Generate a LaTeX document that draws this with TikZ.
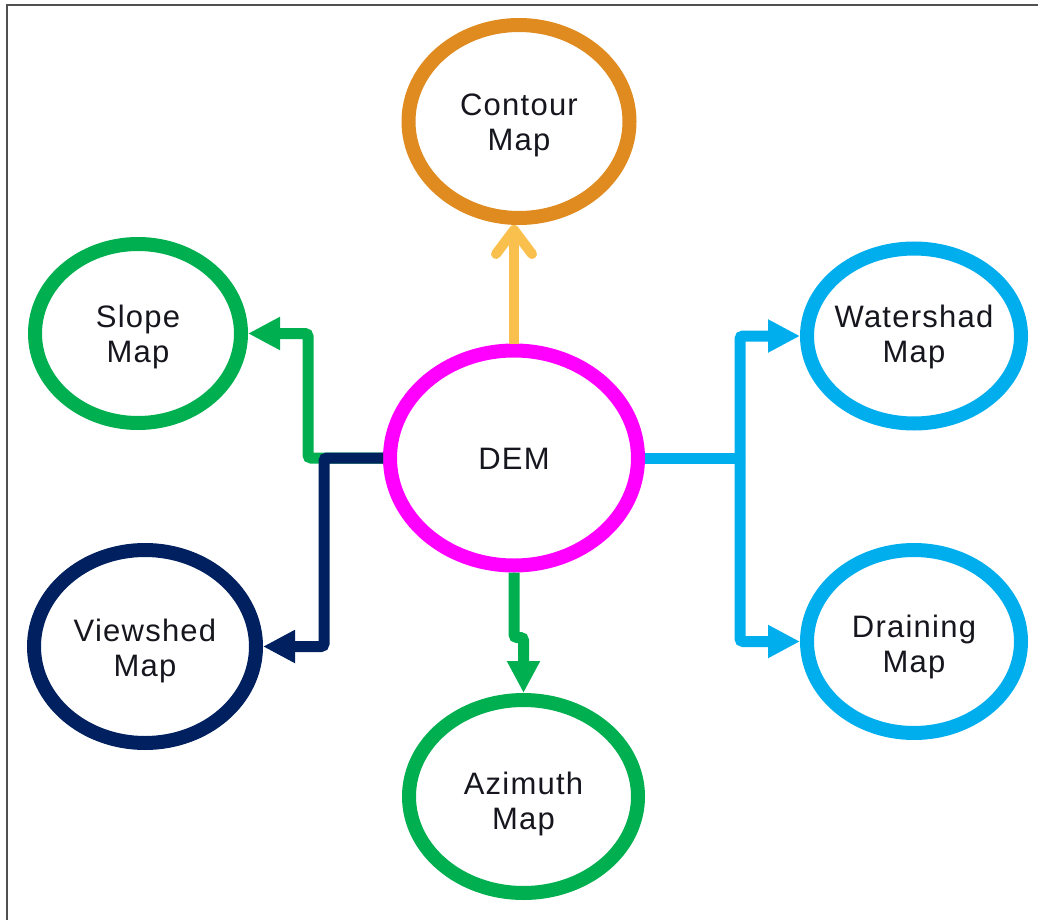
\documentclass[tikz,border=0pt]{standalone}
\usepackage{fontspec}
\setmainfont{Liberation Sans}[LetterSpace=4]
\usetikzlibrary{shapes.geometric,arrows.meta}

\definecolor{demmag}{RGB}{255,0,255}
\definecolor{contourorange}{RGB}{223,139,32}
\definecolor{contouryellow}{RGB}{250,192,78}
\definecolor{mapgreen}{RGB}{0,176,80}
\definecolor{mapnavy}{RGB}{0,32,96}
\definecolor{mapcyan}{RGB}{0,174,238}
\definecolor{labelink}{RGB}{22,22,30}
\definecolor{framegray}{RGB}{80,80,80}

\newcommand\mapfont{\fontsize{31}{35}\selectfont}

\tikzset{
  ring/.style={ellipse, line width=14pt, inner sep=0pt, fill=white},
  maptext/.style={align=center, font=\mapfont, text=labelink, inner sep=0pt},
  link/.style={line width=11pt, rounded corners=3pt,
    -{Triangle[length=32pt,width=31pt]}},
  barb/.style={line width=10pt,
    -{Straight Barb[length=24pt,width=36pt,round]}}
}

\begin{document}
\begin{tikzpicture}[x=1pt,y=-1pt]
  \useasboundingbox (0,0) rectangle (1038,920);

  % page frame (top and left edges)
  \draw[framegray, line width=1.6pt] (7,920) -- (7,5) -- (1038,5);

  % central node and the six derived maps
  \node[ring, draw=demmag, minimum width=248pt, minimum height=215pt] (dem) at (514,458) {};
  \node[ring, draw=contourorange, minimum width=221pt, minimum height=193pt] (contour) at (519,121.5) {};
  \node[ring, draw=mapgreen, minimum width=206pt, minimum height=179pt] (slope) at (138,333.5) {};
  \node[ring, draw=mapnavy, minimum width=222pt, minimum height=193pt] (viewshed) at (145,646.5) {};
  \node[ring, draw=mapgreen, minimum width=229pt, minimum height=193pt] (azimuth) at (523.5,796.5) {};
  \node[ring, draw=mapcyan, minimum width=214pt, minimum height=175pt] (watershad) at (914,336) {};
  \node[ring, draw=mapcyan, minimum width=214pt, minimum height=183pt] (draining) at (914,641.5) {};

  % labels inside the rings
  \node[maptext, yshift=-1pt] (demtext) at (dem) {DEM};
  \node[maptext, yshift=-4pt] (contourtext) at (contour) {Contour\\Map};
  \node[maptext, yshift=-3pt] (slopetext) at (slope) {Slope\\Map};
  \node[maptext, yshift=-4pt] (viewshedtext) at (viewshed) {Viewshed\\Map};
  \node[maptext, yshift=-7pt] (azimuthtext) at (azimuth) {Azimuth\\Map};
  \node[maptext, yshift=-1pt] (watershadtext) at (watershad) {Watershad\\Map};
  \node[maptext, yshift=-5pt] (drainingtext) at (draining) {Draining\\Map};

  % connectors
  \draw[barb, contouryellow] (dem.north) -- (dem.north |- contour.south);
  \draw[link, mapgreen] (dem.south) -- ++(0,65) -| (azimuth.north);

  \draw[link, mapgreen] (dem.west) -- ++(-75,0) |- (slope.east);
  \draw[link, mapnavy] (dem.west) -- ++(-59,0) |- (viewshed.east);

  \draw[line width=11pt, mapcyan] (dem.east) -- ++(95,0) coordinate (rj);
  \draw[link, mapcyan] (rj) |- (watershad.west);
  \draw[link, mapcyan] (rj) |- (draining.west);
\end{tikzpicture}
\end{document}
